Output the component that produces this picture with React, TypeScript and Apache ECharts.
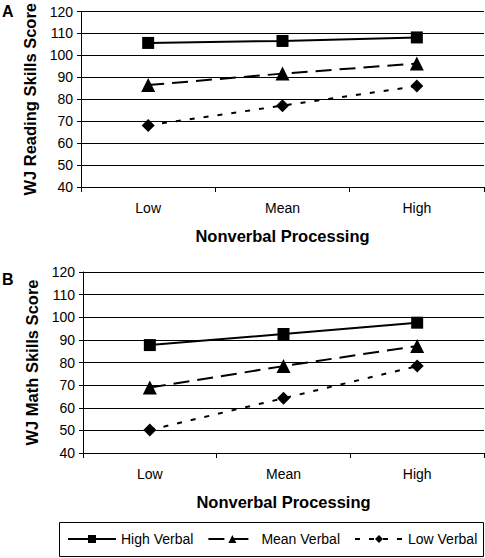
import React, { useEffect, useRef } from "react";
import * as echarts from "echarts";

const categories = ["Low", "Mean", "High"];
const seriesNames = ["High Verbal", "Mean Verbal", "Low Verbal"];
const readingHigh = [105.7, 106.6, 108.2];
const readingMean = [86.5, 91.7, 96.3];
const readingLow = [68.1, 77.1, 86];
const mathHigh = [87.7, 92.6, 97.6];
const mathMean = [68.9, 78.4, 87.3];
const mathLow = [50.2, 64.2, 78.4];
const yMin = 40;
const yMax = 120;
const yStep = 10;

const FONT = "Arial, 'Liberation Sans', sans-serif";

export default function App() {
  const ref = useRef<HTMLDivElement>(null);
  useEffect(() => {
    if (!ref.current) return;
    const chart = echarts.init(ref.current, null, { renderer: "svg" });
    const styles = [
      { symbol: "rect", symbolSize: 12, type: "solid" as any },
      { symbol: "triangle", symbolSize: 14, type: [16, 8] as any },
      { symbol: "diamond", symbolSize: 13, type: [5, 9] as any },
    ];
    const mkX = (gi: number) => ({
      type: "category",
      gridIndex: gi,
      data: categories,
      boundaryGap: true,
      axisLine: { lineStyle: { color: "#000", width: 1 } },
      axisTick: { show: true, length: 5, lineStyle: { color: "#000" } },
      axisLabel: { color: "#000", fontSize: 14, fontFamily: FONT, margin: 14 },
      name: "Nonverbal Processing",
      nameLocation: "middle",
      nameGap: 40,
      nameTextStyle: { color: "#000", fontSize: 16.5, fontWeight: "bold", fontFamily: FONT },
    });
    const mkY = (gi: number, name: string) => ({
      type: "value",
      gridIndex: gi,
      min: yMin,
      max: yMax,
      interval: yStep,
      axisLine: { show: true, lineStyle: { color: "#000", width: 1 } },
      axisTick: { show: true, length: 4, lineStyle: { color: "#000" } },
      axisLabel: { color: "#000", fontSize: 14, fontFamily: FONT, margin: 8 },
      splitLine: { show: true, lineStyle: { color: "#000", width: 1 } },
      name,
      nameLocation: "middle",
      nameGap: 38,
      nameRotate: 90,
      nameTextStyle: { color: "#000", fontSize: 16.5, fontWeight: "bold", fontFamily: FONT },
    });
    const datasets = [
      [readingHigh, readingMean, readingLow],
      [mathHigh, mathMean, mathLow],
    ];
    const series: any[] = [];
    datasets.forEach((ds, gi) => {
      ds.forEach((d, i) => {
        series.push({
          type: "line",
          name: seriesNames[i],
          xAxisIndex: gi,
          yAxisIndex: gi,
          data: d,
          symbol: styles[i].symbol,
          symbolSize: styles[i].symbolSize,
          itemStyle: { color: "#000" },
          lineStyle: { color: "#000", width: 2, type: styles[i].type },
        });
      });
    });
    chart.setOption({
      animation: false,
      backgroundColor: "#fff",
      grid: [
        { left: 81, right: 1, top: 6, height: 181 },
        { left: 83, right: 1, top: 272, height: 181 },
      ],
      xAxis: [mkX(0), mkX(1)],
      yAxis: [mkY(0, "WJ Reading Skills Score"), mkY(1, "WJ Math Skills Score")],
      legend: {
        data: seriesNames,
        orient: "horizontal",
        left: 67,
        top: 532,
        width: 418,
        padding: 0,
        itemGap: 14,
        itemWidth: 48,
        itemHeight: 10,
        textStyle: { color: "#000", fontSize: 14, fontFamily: FONT },
      },
      graphic: [
        {
          type: "rect",
          shape: { x: 59.5, y: 522.5, width: 424, height: 34 },
          style: { fill: "none", stroke: "#000", lineWidth: 1 },
        },
        {
          type: "text",
          x: 2,
          y: 3,
          style: { text: "A", fontSize: 16, fontWeight: "bold", fontFamily: FONT, fill: "#000" },
        },
        {
          type: "text",
          x: 2,
          y: 271,
          style: { text: "B", fontSize: 16, fontWeight: "bold", fontFamily: FONT, fill: "#000" },
        },
      ],
      series,
    });
    return () => chart.dispose();
  }, []);
  return (
    <div
      ref={ref}
      style={{ position: "fixed", left: 0, top: 0, width: 485, height: 558 }}
    />
  );
}
